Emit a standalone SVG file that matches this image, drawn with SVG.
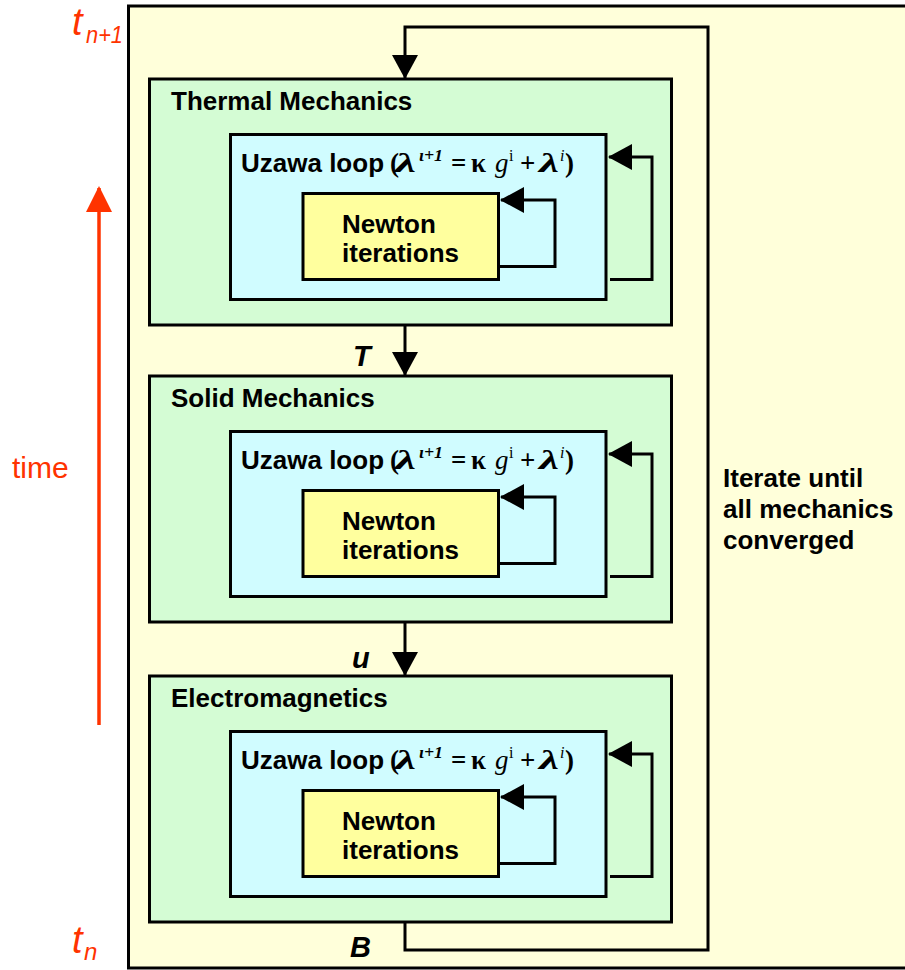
<svg xmlns="http://www.w3.org/2000/svg" width="905" height="970" viewBox="0 0 905 970">
  <style>
    .frame { fill: #FFFFDA; stroke: #000; stroke-width: 3; }
    .module { fill: #D4FCD4; stroke: #000; stroke-width: 3; }
    .uzawa { fill: #D0FCFF; stroke: #000; stroke-width: 3; }
    .newton { fill: #FFFF9E; stroke: #000; stroke-width: 3; }
    .wire { fill: none; stroke: #000; stroke-width: 3; }
    .sans { font-family: "Liberation Sans", Arial, Helvetica, sans-serif; font-weight: bold; font-size: 26px; fill: #000; }
    .serif { font-family: "Liberation Serif", "Times New Roman", serif; font-size: 27px; fill: #000; }
    .b { font-weight: bold; }
    .i { font-style: italic; }
    .sup { font-size: 16px; }
    .var { font-family: "Liberation Sans", Arial, sans-serif; font-weight: bold; font-style: italic; font-size: 29px; fill: #000; }
    .red { font-family: "Liberation Sans", Arial, sans-serif; fill: #FF3300; }
  </style>
  <defs>
    <marker id="head" markerUnits="userSpaceOnUse" viewBox="0 0 24 26" markerWidth="24" markerHeight="26" refX="23" refY="13" orient="auto">
      <path d="M0,0 L24,13 L0,26 Z" fill="#000"/>
    </marker>
    <marker id="headRed" markerUnits="userSpaceOnUse" viewBox="0 0 26 26" markerWidth="26" markerHeight="26" refX="24" refY="13" orient="auto">
      <path d="M0,0 L26,13 L0,26 Z" fill="#FF3300"/>
    </marker>
    <!-- one physics module: outer box, Uzawa loop box, Newton box and their self-loops -->
    <g id="moduleBody">
      <rect class="module" x="149.5" y="79" width="522" height="246"/>
      <rect class="uzawa" x="230.5" y="134.5" width="375.5" height="165"/>
      <text class="sans" x="241" y="172">Uzawa loop</text>
      <text class="serif b" x="390" y="172">(</text>
      <text class="serif b i" x="395" y="172" textLength="21" lengthAdjust="spacingAndGlyphs">λ</text>
      <text class="serif b i sup" x="419" y="161" textLength="24" lengthAdjust="spacingAndGlyphs">ι+1</text>
      <text class="serif b" x="451" y="172">=</text>
      <text class="serif b" x="471" y="172">κ</text>
      <text class="serif i" x="495" y="172">g</text>
      <text class="serif sup" x="509" y="161">i</text>
      <text class="serif b" x="520" y="172">+</text>
      <text class="serif b i" x="539" y="172" textLength="20" lengthAdjust="spacingAndGlyphs">λ</text>
      <text class="serif i sup" x="560" y="161">i</text>
      <text class="serif b" x="565" y="172">)</text>
      <rect class="newton" x="303" y="193.5" width="195.5" height="86"/>
      <text class="sans" x="342" y="233">Newton</text>
      <text class="sans" x="342" y="262">iterations</text>
      <path class="wire" d="M500,266.5 H555 V200 H501" marker-end="url(#head)"/>
      <path class="wire" d="M610,279.5 H652 V157 H609" marker-end="url(#head)"/>
    </g>
  </defs>

  <!-- time axis -->
  <g id="timeAxis">
    <text class="red i" x="72" y="35" font-size="38">t</text>
    <text class="red i" x="86" y="43" font-size="24" textLength="37" lengthAdjust="spacingAndGlyphs">n+1</text>
    <text class="red i" x="72" y="953" font-size="38">t</text>
    <text class="red i" x="84" y="960" font-size="24">n</text>
    <text class="red" x="12" y="478" font-size="30">time</text>
    <path d="M99,725 V188" fill="none" stroke="#FF3300" stroke-width="3.5" marker-end="url(#headRed)"/>
  </g>

  <!-- time step frame -->
  <g id="timestep">
    <rect class="frame" x="128.5" y="6" width="778" height="962"/>
    <text class="sans" x="723" y="487">Iterate until</text>
    <text class="sans" x="723" y="518">all mechanics</text>
    <text class="sans" x="723" y="549">converged</text>
  </g>

  <g id="thermal">
    <use href="#moduleBody"/>
    <text class="sans" x="171" y="110">Thermal Mechanics</text>
  </g>
  <g id="solid" transform="translate(0,297)">
    <use href="#moduleBody"/>
    <text class="sans" x="171" y="110">Solid Mechanics</text>
  </g>
  <g id="electromagnetics" transform="translate(0,597)">
    <use href="#moduleBody"/>
    <text class="sans" x="171" y="110">Electromagnetics</text>
  </g>

  <!-- coupling between modules and the outer convergence loop -->
  <g id="connectors">
    <path class="wire" d="M405,325 V375" marker-end="url(#head)"/>
    <path class="wire" d="M405,622 V675" marker-end="url(#head)"/>
    <path class="wire" d="M405,922 V950 H708 V27 H405 V78" marker-end="url(#head)"/>
    <text class="var" x="353" y="366">T</text>
    <text class="var" x="352" y="668">u</text>
    <text class="var" x="350" y="957">B</text>
  </g>
</svg>
